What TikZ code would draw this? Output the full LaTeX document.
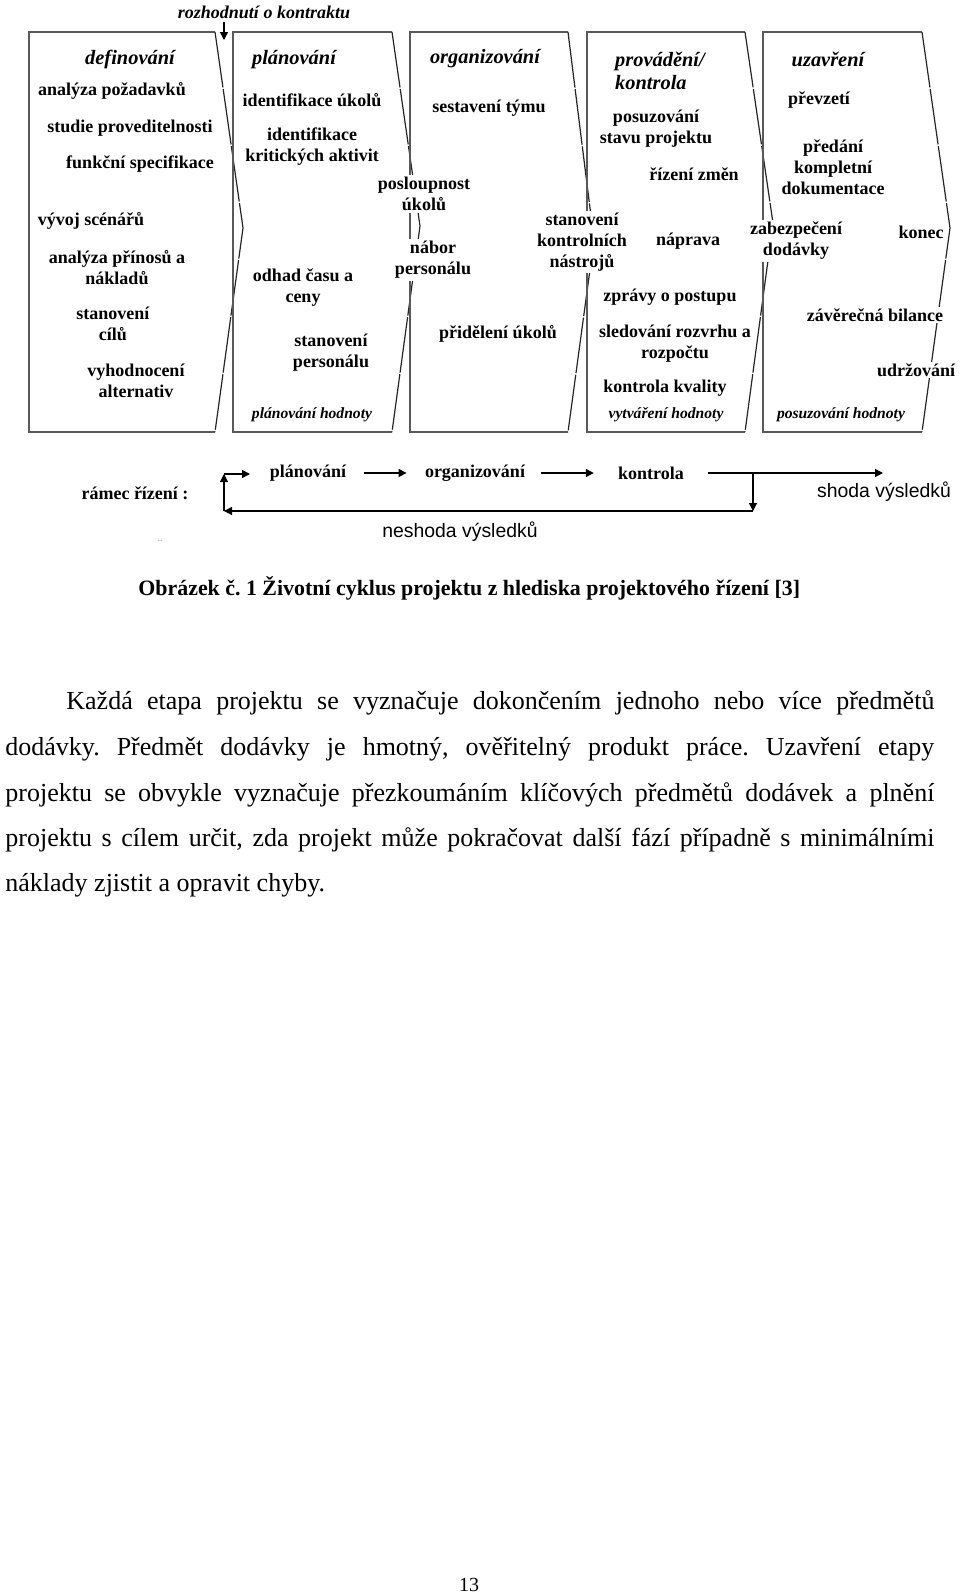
\documentclass[tikz,border=0pt]{standalone}
\usepackage{fontspec}
\setmainfont{Liberation Serif}
\setsansfont{Liberation Sans}
\usetikzlibrary{arrows.meta}
\frenchspacing
\newcommand\dgf{\fontsize{9}{10.5}\selectfont\bfseries}
\newcommand\dgt{\fontsize{10.2}{11.5}\selectfont\bfseries\itshape}
\newcommand\dgs{\fontsize{7.8}{9}\selectfont\bfseries\itshape}
\newcommand\ptxt{\fontsize{13}{15}\selectfont}
\tikzset{
 lb/.style={font=\dgf, align=center, inner sep=1pt, fill=white},
 tt/.style={font=\dgt, align=left, inner sep=1pt},
 sm/.style={font=\dgs, inner sep=1pt},
 frame/.style={draw=black!65, line width=0.65pt},
 redge/.style={draw=black!85, line width=0.6pt, dash pattern=on 28pt off 0.8pt},
 arr/.style={draw=black, line width=0.6pt, -{Triangle[length=4pt,width=4pt]}},
 fl/.style={font=\dgf, inner sep=1pt},
 para/.style={font=\ptxt, anchor=base west, inner sep=0pt},
}
\begin{document}
\begin{tikzpicture}[x=0.5pt,y=-0.5pt]
\useasboundingbox[fill=white] (0,0) rectangle (960,1596);
% phase boxes
\foreach \l/\r/\px/\py in {29/215/243/228, 233/392/420/226, 410/568/594/240, 587/745/773/223, 763/922/950/228}{
  \draw[frame] (\r,32) -- (\l,32) -- (\l,432) -- (\r,432);
  \draw[redge] (\r,32) -- (\px,\py) -- (\r,432);
}
% top label
\node[font=\fontsize{9}{10}\selectfont\bfseries\itshape, inner sep=1pt] (rk) at (264,12) {rozhodnutí o kontraktu};
\coordinate (rka) at (224,22);
\coordinate (rkb) at (224,40);
\draw[arr] (rka) -- (rkb);
% box 1
\node[tt] (t1) at (130,59) {definování};
\node[lb] (a1) at (112,91) {analýza požadavků};
\node[lb] (a2) at (130,128) {studie proveditelnosti};
\node[lb] (a3) at (140,164) {funkční specifikace};
\node[lb] (a4) at (91,221) {vývoj scénářů};
\node[lb] (a5) at (117,268) {analýza přínosů a\\nákladů};
\node[lb] (a6) at (113,324) {stanovení\\cílů};
\node[lb] (a7) at (136,381) {vyhodnocení\\alternativ};
% box 2
\node[tt] (t2) at (294,60) {plánování};
\node[lb] (b1) at (312,100) {identifikace úkolů};
\node[lb] (b2) at (312,147) {identifikace\\kritických aktivit};
\node[lb] (b3) at (424,194) {posloupnost\\úkolů};
\node[lb] (b4) at (433,260) {nábor\\personálu};
\node[lb] (b5) at (303,288) {odhad času a\\ceny};
\node[lb] (b6) at (331,353) {stanovení\\personálu};
\node[sm] (v2) at (312,415) {plánování hodnoty};
% box 3
\node[tt] (t3) at (485,59) {organizování};
\node[lb] (c1) at (489,108) {sestavení týmu};
\node[lb] (c2) at (498,334) {přidělení úkolů};
\node[lb] (c3) at (582,242) {stanovení\\kontrolních\\nástrojů};
% box 4
\node[tt] (t4) at (660,71) {provádění/\\kontrola};
\node[lb] (d1) at (656,129) {posuzování\\stavu projektu};
\node[lb] (d2) at (694,174) {řízení změn};
\node[lb] (d3) at (688,241) {náprava};
\node[lb] (d4) at (670,297) {zprávy o postupu};
\node[lb] (d5) at (675,344) {sledování rozvrhu a\\rozpočtu};
\node[lb] (d6) at (665,388) {kontrola kvality};
\node[sm] (v4) at (666,415) {vytváření hodnoty};
% box 5
\node[tt] (t5) at (828,59) {uzavření};
\node[lb] (e1) at (819,100) {převzetí};
\node[lb] (e2) at (833,167) {předání\\kompletní\\dokumentace};
\node[lb] (e3) at (796,241) {zabezpečení\\dodávky};
\node[lb] (e4) at (921,232) {konec};
\node[lb] (e5) at (875,315) {závěrečná bilance};
\node[lb] (e6) at (916,370) {udržování};
\node[sm] (v5) at (841,415) {posuzování hodnoty};
% control frame
\node[fl] (fr) at (135,493) {rámec řízení :};
\node[fl] (fp) at (308,473) {plánování};
\node[fl] (fo) at (475,473) {organizování};
\node[fl] (fk) at (651,473) {kontrola};
\node[font=\sffamily\fontsize{9.7}{11}\selectfont, inner sep=1pt] (fs) at (884,492) {shoda výsledků};
\node[font=\sffamily\fontsize{9.7}{11}\selectfont, inner sep=1pt] (fn) at (460,532) {neshoda výsledků};
\node[font=\fontsize{5}{6}\selectfont, text=black!35, inner sep=0pt] (dots) at (160,541) {..};
\coordinate (kend) at (883,473);
\coordinate (br) at (753,473);
\coordinate (bd) at (753,511);
\coordinate (lb) at (224,511);
\coordinate (lt) at (224,474);
\coordinate (ls) at (250,474);
\draw[arr] ([xshift=8pt]fp.east) -- ([xshift=-8pt]fo.west);
\draw[arr] ([xshift=7pt]fo.east) -- ([xshift=-11pt]fk.west);
\draw[arr] ([xshift=11pt]fk.east) -- (kend);
\draw[arr] (br) -- (bd);
\draw[arr] (bd) -- (lb);
\draw[arr] (lb) -- (lt);
\draw[arr] (lt) -- (ls);
% caption
\node[font=\bfseries\fontsize{10.95}{13}\selectfont, anchor=base west, inner sep=0pt] (cap) at (138,595) {Obrázek č. 1 Životní cyklus projektu z hlediska projektového řízení [3]};
% paragraph
\node[para] (p1) at (66,709) {\makebox[434pt][s]{Každá etapa projektu se vyznačuje dokončením jednoho nebo více předmětů}};
\node[para] (p2) at (5,755) {\makebox[464.5pt][s]{dodávky. Předmět dodávky je hmotný, ověřitelný produkt práce. Uzavření etapy}};
\node[para] (p3) at (5,801) {\makebox[464.5pt][s]{projektu se obvykle vyznačuje přezkoumáním klíčových předmětů dodávek a plnění}};
\node[para] (p4) at (5,846) {\makebox[464.5pt][s]{projektu s cílem určit, zda projekt může pokračovat další fází případně s minimálními}};
\node[para] (p5) at (5,891) {náklady zjistit a opravit chyby.};
% page number
\node[font=\fontsize{10}{12}\selectfont, inner sep=0pt] (pg) at (469,1585) {13};
\end{tikzpicture}
\end{document}
